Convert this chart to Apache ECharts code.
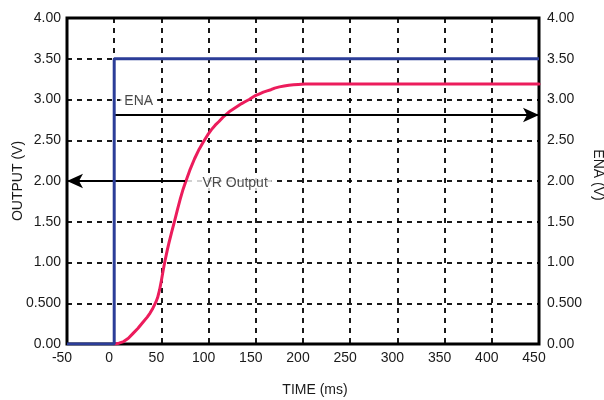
<!DOCTYPE html>
<html>
<head>
<meta charset="utf-8">
<script src="https://cdn.jsdelivr.net/npm/echarts@6/dist/echarts.min.js"></script>
<style>
html,body{margin:0;padding:0;background:#fff;}
#chart{width:604px;height:400px;}
</style>
</head>
<body>
<div id="chart"></div>
<script>
// ---- data ----
const xTickLabels = ['-50','0','50','100','150','200','250','300','350','400','450'];
const yTickLabels = ['0.00','0.500','1.00','1.50','2.00','2.50','3.00','3.50','4.00'];

const outputTime  = [0,5,10,15,20,25,30,35,38,41,44,46,48,50,52,54,56,58,61,64,67,70,73,76,80,85,90,95,99,103,107,111,115,119,123,127,131,135,139,143,147,150,154,158,162,166,170,175,180,185,190,195,202,210,450];
const outputVolts = [0,0.01,0.03,0.07,0.13,0.19,0.26,0.33,0.38,0.44,0.51,0.57,0.66,0.78,0.91,1.03,1.14,1.24,1.38,1.51,1.65,1.78,1.9,2.0,2.13,2.27,2.39,2.49,2.565,2.63,2.685,2.73,2.78,2.82,2.86,2.89,2.92,2.95,2.975,3.0,3.03,3.05,3.07,3.09,3.105,3.12,3.14,3.155,3.165,3.175,3.18,3.185,3.19,3.19,3.19];

const enaTime  = [-50,0,0,450];
const enaVolts = [0,0,3.5,3.5];

const enaArrow = {from:[0,2.81], to:[450,2.81]};
const vrArrow  = {from:[75,2.0], to:[-50,2.0]};
const annotations = [
  {name:'ENA', at:[6.5,2.98]},
  {name:'VR Output', at:[76.5,1.975]}
];

// ---- chart ----
const chart = echarts.init(document.getElementById('chart'), null, {renderer:'canvas'});
const FONT = '"Liberation Sans", Arial, Helvetica, sans-serif';
const TXT = '#1a1a1a';
const gridLine = {show:true, lineStyle:{color:'#000', type:[5,5], width:1.8}};
const yLabelFmt = v => yTickLabels[Math.round(v/0.5)];

const option = {
  animation:false,
  backgroundColor:'#fff',
  grid:{left:67, right:65, top:18, bottom:56, containLabel:false, outerBoundsMode:'none',
        show:true, borderColor:'#000', borderWidth:3, backgroundColor:'transparent'},
  xAxis:{
    type:'value', min:-50, max:450, interval:50,
    name:'TIME (ms)', nameLocation:'middle', nameGap:39, nameMoveOverlap:false,
    nameTextStyle:{fontFamily:FONT, fontSize:14, color:TXT, padding:[0,0,0,24]},
    axisLine:{show:false}, axisTick:{show:false},
    axisLabel:{fontFamily:FONT, fontSize:14, color:TXT, margin:7, padding:[0,10,0,0],
      formatter:(v)=>xTickLabels[Math.round((v+50)/50)]},
    splitLine:gridLine
  },
  yAxis:[
    {type:'value', min:0, max:4, interval:0.5, position:'left',
     name:'OUTPUT (V)', nameLocation:'middle', nameGap:42, nameMoveOverlap:false,
     nameTextStyle:{fontFamily:FONT, fontSize:14, color:TXT},
     axisLine:{show:false}, axisTick:{show:false},
     axisLabel:{fontFamily:FONT, fontSize:14, color:TXT, margin:6, formatter:yLabelFmt},
     splitLine:gridLine},
    {type:'value', min:0, max:4, interval:0.5, position:'right',
     name:'ENA (V)', nameLocation:'middle', nameGap:52, nameRotate:-90, nameMoveOverlap:false,
     nameTextStyle:{fontFamily:FONT, fontSize:14, color:TXT, padding:[0,12,0,0]},
     axisLine:{show:false}, axisTick:{show:false},
     axisLabel:{fontFamily:FONT, fontSize:14, color:TXT, margin:8, formatter:yLabelFmt},
     splitLine:{show:false}}
  ],
  series:[
    {
      name:'VR Output', type:'line', yAxisIndex:0,
      data: outputTime.map((t,i)=>[t, outputVolts[i]]),
      showSymbol:false, smooth:false,
      lineStyle:{color:'#ec1c5c', width:3, join:'round', cap:'round'}, z:3,
      markLine:{
        silent:true, symbol:['none','arrow'], symbolSize:[11,16],
        label:{show:false},
        lineStyle:{color:'#000', width:2, type:'solid'},
        data:[
          [{coord:enaArrow.from},{coord:enaArrow.to}],
          [{coord:vrArrow.from},{coord:vrArrow.to}]
        ],
        z:4
      }
    },
    {
      name:'ENA', type:'line', yAxisIndex:1,
      data: enaTime.map((t,i)=>[t, enaVolts[i]]),
      showSymbol:false,
      lineStyle:{color:'#2b3d98', width:3}, z:4
    },
    {
      name:'labels', type:'scatter', yAxisIndex:0, symbolSize:0, silent:true, z:2,
      data: annotations.map(a=>({value:a.at, name:a.name})),
      label:{show:true, position:'right', distance:0, formatter:p=>p.name,
        fontFamily:FONT, fontSize:14, color:TXT, backgroundColor:'#fff',
        padding:[1,4,1,4]}
    }
  ]
};
// VR Output label gets a wider white box on the left
option.series[2].data[1].label = {padding:[1,4,1,16]};
chart.setOption(option);
</script>
</body>
</html>
